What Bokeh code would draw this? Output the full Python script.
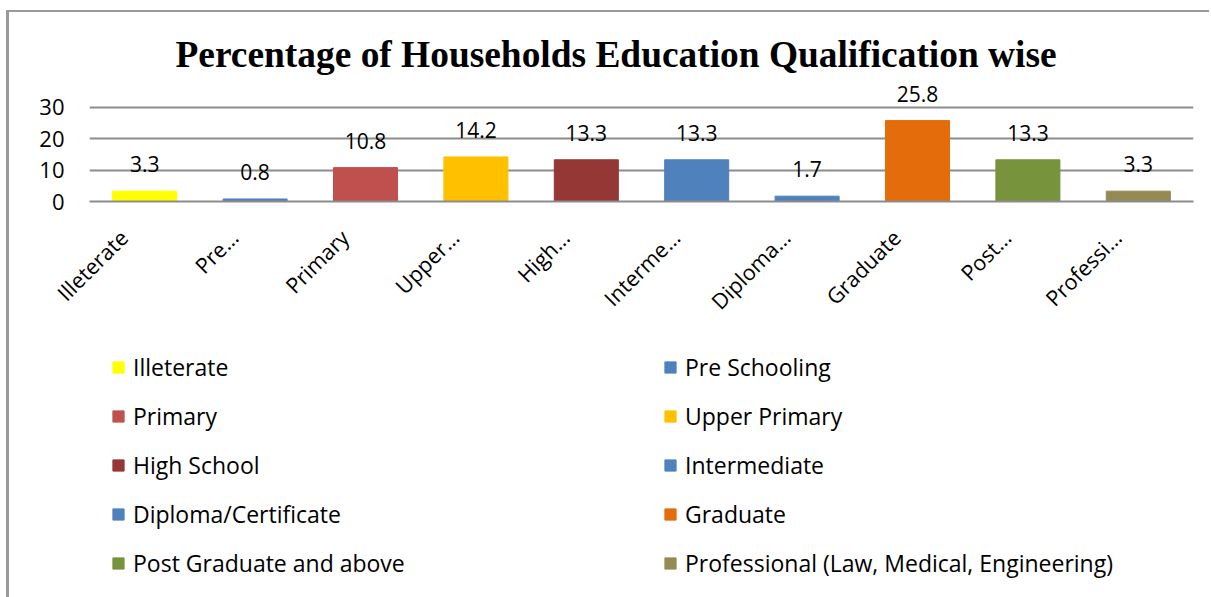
from bokeh.plotting import figure
from bokeh.layouts import column
from bokeh.models import (ColumnDataSource, LabelSet, Legend, LegendItem,
                          Range1d, LinearAxis, FixedTicker)
from bokeh.core.properties import value
from bokeh.embed import file_html
from bokeh.resources import INLINE

# ---- data ----
categories = ["Illeterate", "Pre Schooling", "Primary", "Upper Primary",
              "High School", "Intermediate", "Diploma/Certificate", "Graduate",
              "Post Graduate and above", "Professional (Law, Medical, Engineering)"]
tick_labels = ["Illeterate", "Pre…", "Primary", "Upper…", "High…",
               "Interme…", "Diploma…", "Graduate", "Post…", "Professi…"]
values = [3.3, 0.8, 10.8, 14.2, 13.3, 13.3, 1.7, 25.8, 13.3, 3.3]
colors = ["#FFFF00", "#4F81BD", "#C0504D", "#FFC000", "#953735",
          "#4F81BD", "#4F81BD", "#E46C0A", "#77933C", "#948A54"]
y_ticks = [0, 10, 20, 30]

FONT = "Open Sans"
GRID = "#8c8c8c"
n = len(categories)
centers = [i + 0.5 for i in range(n)]   # category slots on the x scale

src = ColumnDataSource(dict(cat=categories, tick=tick_labels, x=centers, val=values,
                            color=colors, txt=[f"{v:.1f}" for v in values]))

# ---------------- chart ----------------
p = figure(x_range=Range1d(0, n), y_range=(0, 37.3),
           width=1200, height=335, output_backend="svg", toolbar_location=None,
           min_border_left=80, min_border_right=16, min_border_top=72,
           min_border_bottom=146, outline_line_color=None, x_axis_location=None,
           title="Percentage of Households Education Qualification wise")

p.title.text_font = "Liberation Serif"
p.title.text_font_style = "bold"
p.title.text_font_size = "37.4px"
p.title.text_color = "black"
p.title.align = "left"
p.title.offset = 86
p.title.standoff = 20

r = p.vbar(x="x", top="val", width=0.58, color="color", source=src)

labels = LabelSet(x="x", y="val", text="txt", source=src, text_align="center",
                  text_baseline="alphabetic", y_offset=19, text_font=value(FONT),
                  text_font_size=value("21px"), text_color="black")
p.add_layout(labels)

p.yaxis.ticker = y_ticks
p.yaxis.axis_line_color = None
p.yaxis.major_tick_line_color = None
p.yaxis.minor_tick_line_color = None
p.yaxis.major_label_text_font = FONT
p.yaxis.major_label_text_font_size = "22px"
p.yaxis.major_label_text_color = "black"
p.yaxis.major_label_standoff = 19

# category label axis (offset a little, like the original's rotated labels)
shift = 0.19
p.extra_x_ranges = {"lab": Range1d(shift, n + shift)}
xax = LinearAxis(x_range_name="lab", ticker=FixedTicker(ticks=centers),
                 major_label_overrides={c: t for c, t in zip(centers, tick_labels)})
xax.axis_line_color = GRID
xax.axis_line_width = 2
xax.major_tick_line_color = None
xax.minor_tick_line_color = None
xax.major_label_orientation = 0.785398
xax.major_label_text_font = FONT
xax.major_label_text_font_size = "21.5px"
xax.major_label_text_color = "black"
xax.major_label_standoff = 26
p.add_layout(xax, "below")

p.xgrid.grid_line_color = None
p.ygrid.grid_line_color = GRID
p.ygrid.grid_line_width = 2

# ---------------- legend ----------------
p2 = figure(x_range=Range1d(0, n), y_range=(100, 200),
            width=1200, height=250, output_backend="svg", toolbar_location=None,
            min_border=0, outline_line_color=None,
            x_axis_location=None, y_axis_location=None)
p2.grid.grid_line_color = None
r2 = p2.vbar(x="x", top="val", width=0.58, color="color", source=src)

items = [LegendItem(label=c, renderers=[r2], index=i) for i, c in enumerate(categories)]
legend = Legend(items=items, orientation="horizontal", ncols=2,
                location=(22, 18), padding=0, margin=0,
                border_line_color=None, background_fill_alpha=0,
                glyph_width=14, glyph_height=14, label_standoff=8,
                label_width=513, label_height=32, spacing=17,
                label_text_font=FONT, label_text_font_size="23px",
                label_text_color="black")
p2.add_layout(legend)

lay = column(p, p2, spacing=0,
             styles={"border-left": "3px solid #9a9a9a", "border-top": "2px solid #9a9a9a",
                     "margin-left": "6px", "margin-top": "10px"})

open("out.html", "w").write(file_html(lay, INLINE))
